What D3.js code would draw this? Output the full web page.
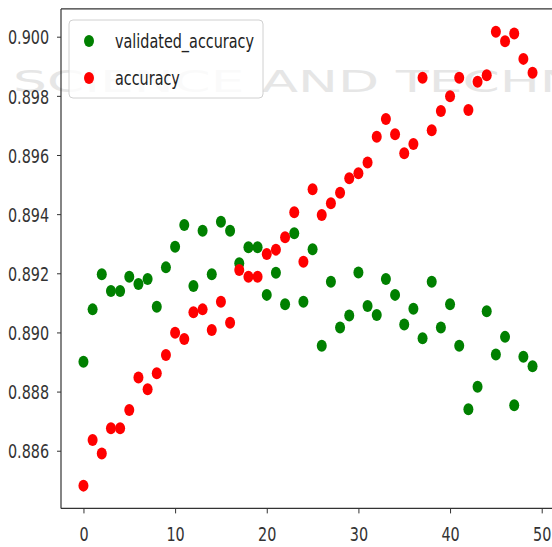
<!DOCTYPE html>
<html>
<head>
<meta charset="utf-8">
<script src="https://cdn.jsdelivr.net/npm/d3@7"></script>
<style>
  body { margin: 0; background: #fff; }
  svg { display: block; font-family: "DejaVu Sans", sans-serif; }
</style>
</head>
<body>
<svg id="chart"></svg>
<script>
// Width and height of svg
var width = 552;
var height = 547;

// epochs 0..49
var epochs = d3.range(0, 50);

var validatedAccuracy = [
  0.88901, 0.89078, 0.89197, 0.89140, 0.89140, 0.89188, 0.89164, 0.89181, 0.89087, 0.89220,
  0.89290, 0.89363, 0.89157, 0.89344, 0.89197, 0.89374, 0.89344, 0.89234, 0.89288, 0.89288,
  0.89127, 0.89202, 0.89095, 0.89335, 0.89104, 0.89281, 0.88955, 0.89171, 0.89017, 0.89057,
  0.89203, 0.89089, 0.89059, 0.89181, 0.89127, 0.89027, 0.89080, 0.88980, 0.89171, 0.89017,
  0.89095, 0.88955, 0.88740, 0.88816, 0.89072, 0.88925, 0.88985, 0.88754, 0.88918, 0.88886
];

var accuracy = [
  0.88482, 0.88636, 0.88591, 0.88676, 0.88676, 0.88738, 0.88848, 0.88808, 0.88862, 0.88924,
  0.88999, 0.88978, 0.89068, 0.89078, 0.89008, 0.89104, 0.89033, 0.89211, 0.89188, 0.89188,
  0.89265, 0.89280, 0.89322, 0.89406, 0.89239, 0.89484, 0.89397, 0.89437, 0.89472, 0.89521,
  0.89538, 0.89575, 0.89662, 0.89722, 0.89670, 0.89606, 0.89637, 0.89861, 0.89684, 0.89749,
  0.89799, 0.89861, 0.89752, 0.89848, 0.89870, 0.90017, 0.89985, 0.90011, 0.89925, 0.89878
];

var xTicks = [0, 10, 20, 30, 40, 50];
var yTicks = [0.886, 0.888, 0.890, 0.892, 0.894, 0.896, 0.898, 0.900];

var seriesNames = ["validated_accuracy", "accuracy"];
var seriesColors = ["#008000", "#ff0000"];

var svg = d3.select("#chart")
  .attr("width", width)
  .attr("height", height);

// matplotlib-like limits (5% margins)
var x = d3.scaleLinear().domain([-2.45, 51.45]).range([61, 555]);
var y = d3.scaleLinear().domain([0.88405, 0.90094]).range([508.4, 8.9]);

// faint watermark in the background
svg.append("text")
  .attr("x", 13)
  .attr("y", 92)
  .attr("textLength", 750)
  .attr("lengthAdjust", "spacingAndGlyphs")
  .style("font-size", "31px")
  .style("fill", "#e6e6e6")
  .text("SCIENCE AND TECHNOLOGY");

// spines
var frame = svg.append("g").attr("class", "frame")
  .style("stroke", "#333")
  .style("stroke-width", 1.2)
  .style("fill", "none");
frame.append("line").attr("x1", x.range()[0]).attr("x2", x.range()[0]).attr("y1", y.range()[0]).attr("y2", y.range()[1]);
frame.append("line").attr("x1", x.range()[0]).attr("x2", x.range()[1]).attr("y1", y.range()[0]).attr("y2", y.range()[0]);
frame.append("line").attr("x1", x.range()[0]).attr("x2", x.range()[1]).attr("y1", y.range()[1]).attr("y2", y.range()[1]);

// axes
var xAxis = svg.append("g")
  .attr("transform", "translate(0," + y.range()[0] + ")")
  .call(d3.axisBottom(x).tickValues(xTicks).tickSize(5).tickPadding(5).tickFormat(d3.format("d")));

var yAxis = svg.append("g")
  .attr("transform", "translate(" + x.range()[0] + ",0)")
  .call(d3.axisLeft(y).tickValues(yTicks).tickSize(4).tickFormat(d3.format(".3f")));

[xAxis, yAxis].forEach(function(a) {
  a.select(".domain").remove();
  a.selectAll(".tick line").style("stroke", "#333").style("stroke-width", 1);
  a.selectAll(".tick text")
    .style("font-size", "20px")
    .style("font-family", "'DejaVu Sans', sans-serif")
    .style("fill", "#333");
});

// squeeze labels horizontally like the reference
xAxis.selectAll(".tick text")
  .attr("y", 18)
  .attr("dy", "0.71em")
  .attr("transform", "scale(0.72,1)");
yAxis.selectAll(".tick text")
  .attr("x", -16.5)
  .attr("dy", "0.36em")
  .attr("transform", "scale(0.72,1)");

// points
var series = [validatedAccuracy, accuracy];
series.forEach(function(vals, k) {
  svg.append("g").selectAll("ellipse")
    .data(vals)
    .enter()
    .append("ellipse")
    .attr("cx", function(d, i) { return x(epochs[i]); })
    .attr("cy", function(d) { return y(d); })
    .attr("rx", 5)
    .attr("ry", 6)
    .style("fill", seriesColors[k]);
});

// legend
var legend = svg.append("g").attr("class", "legend");
legend.append("rect")
  .attr("x", 69)
  .attr("y", 20)
  .attr("width", 194)
  .attr("height", 78)
  .attr("rx", 4)
  .style("fill", "#fff")
  .style("fill-opacity", 0.8)
  .style("stroke", "#d0d0d0")
  .style("stroke-width", 1);

seriesNames.forEach(function(name, k) {
  var ly = 41 + k * 37;
  legend.append("ellipse")
    .attr("cx", 89)
    .attr("cy", ly)
    .attr("rx", 5)
    .attr("ry", 6)
    .style("fill", seriesColors[k]);
  legend.append("text")
    .attr("x", 115 / 0.72)
    .attr("y", ly)
    .attr("dy", "0.36em")
    .attr("transform", "scale(0.72,1)")
    .style("font-size", "20px")
    .style("fill", "#222")
    .text(name);
});
</script>
</body>
</html>
